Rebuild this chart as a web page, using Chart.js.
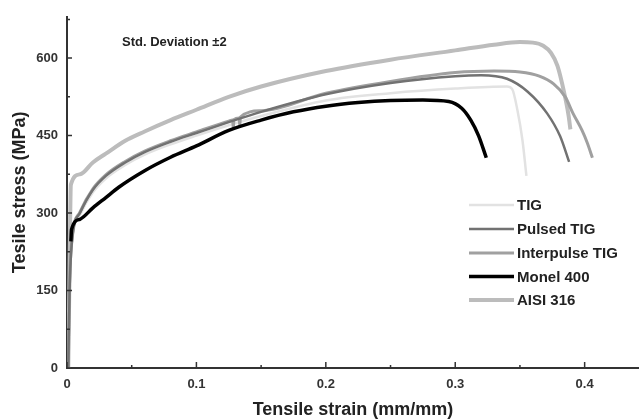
<!DOCTYPE html>
<html>
<head>
<meta charset="utf-8">
<script src="https://cdn.jsdelivr.net/npm/chart.js@4.4.1/dist/chart.umd.min.js"></script>
<style>
  html, body { margin: 0; padding: 0; background: #fff; }
  #wrap { width: 639px; height: 419px; position: relative; }
</style>
</head>
<body>
<div id="wrap"><canvas id="stressChart"></canvas></div>
<script>
// Series names, in legend order
const seriesNames = ['TIG', 'Pulsed TIG', 'Interpulse TIG', 'Monel 400', 'AISI 316'];

// Tensile strain (mm/mm) and stress (MPa)
const tigStrain = [0.001, 0.002, 0.004, 0.01, 0.02, 0.03, 0.045, 0.06, 0.08, 0.1, 0.125, 0.15, 0.2, 0.25, 0.3, 0.34, 0.344, 0.348, 0.352, 0.355];
const tigStress = [0, 150, 245, 296, 340, 367, 393, 413, 433, 450, 470, 488, 518, 532, 541, 545, 540, 500, 440, 372];

const pulsedStrain = [0.001, 0.002, 0.004, 0.01, 0.02, 0.03, 0.045, 0.06, 0.08, 0.1, 0.125, 0.15, 0.2, 0.25, 0.3, 0.32, 0.34, 0.356, 0.371, 0.381, 0.388];
const pulsedStress = [0, 150, 250, 300, 345, 372, 398, 418, 438, 455, 476, 496, 530, 552, 565, 567, 560, 535, 493, 449, 399];

const interStrain = [0.001, 0.002, 0.004, 0.01, 0.02, 0.03, 0.045, 0.06, 0.08, 0.1, 0.125, 0.128, 0.1285, 0.129, 0.133, 0.1335, 0.134, 0.15, 0.2, 0.25, 0.3, 0.33, 0.35, 0.365, 0.376, 0.385, 0.391, 0.398, 0.402, 0.406];
const interStress = [0, 160, 252, 302, 347, 374, 400, 420, 440, 457, 478, 480, 464, 481, 484, 469, 486, 498, 532, 555, 572, 575, 573, 565, 550, 525, 493, 460, 436, 407];

const monelStrain = [0.003, 0.0035, 0.01, 0.02, 0.03, 0.04, 0.06, 0.08, 0.1, 0.125, 0.15, 0.175, 0.2, 0.225, 0.25, 0.275, 0.295, 0.305, 0.312, 0.318, 0.324];
const monelStress = [245, 268, 288, 310, 330, 350, 382, 408, 430, 460, 480, 496, 507, 514, 518, 519, 516, 503, 480, 450, 407];

const aisiStrain = [0.001, 0.002, 0.003, 0.01, 0.02, 0.03, 0.045, 0.06, 0.08, 0.1, 0.125, 0.15, 0.2, 0.25, 0.3, 0.33, 0.35, 0.36, 0.368, 0.374, 0.379, 0.384, 0.3875, 0.389];
const aisiStress = [0, 200, 355, 375, 398, 415, 440, 458, 480, 500, 525, 545, 575, 597, 615, 626, 631, 630, 624, 610, 585, 535, 490, 462];

// Axis ticks
const xTicks = [0, 0.1, 0.2, 0.3, 0.4];
const xMinorTicks = [0.05, 0.15, 0.25, 0.35];
const yTicks = [0, 150, 300, 450, 600];
const yMinorTicks = [75, 225, 375, 525, 675];

const lineColors = ['#e2e2e2', '#727272', '#a0a0a0', '#000000', '#bcbcbc'];
const lineWidths = [2.5, 2.5, 3, 3.5, 4];
const drawOrder = [4, 1, 2, 0, 3];

function toPoints(xs, ys) {
    return xs.map((x, i) => ({ x: x, y: ys[i] }));
}

const allSeries = [
    toPoints(tigStrain, tigStress),
    toPoints(pulsedStrain, pulsedStress),
    toPoints(interStrain, interStress),
    toPoints(monelStrain, monelStress),
    toPoints(aisiStrain, aisiStress)
];

const fontFamily = '"Liberation Sans", Arial, sans-serif';

// tick marks pointing into the plot, plus the note and the legend
const decorPlugin = {
    id: 'decor',
    afterDraw(chart) {
        const ctx = chart.ctx;
        const xs = chart.scales.x, ys = chart.scales.y;
        const area = chart.chartArea;
        ctx.save();
        ctx.strokeStyle = '#333';
        ctx.lineWidth = 1.5;
        ctx.beginPath();
        xTicks.forEach(v => { const p = xs.getPixelForValue(v); ctx.moveTo(p, area.bottom); ctx.lineTo(p, area.bottom - 6); });
        xMinorTicks.forEach(v => { const p = xs.getPixelForValue(v); ctx.moveTo(p, area.bottom); ctx.lineTo(p, area.bottom - 3); });
        yTicks.forEach(v => { const p = ys.getPixelForValue(v); ctx.moveTo(area.left, p); ctx.lineTo(area.left + 5, p); });
        yMinorTicks.forEach(v => { const p = ys.getPixelForValue(v); ctx.moveTo(area.left, p); ctx.lineTo(area.left + 3, p); });
        ctx.stroke();

        ctx.fillStyle = '#222';
        ctx.font = 'bold 13px ' + fontFamily;
        ctx.textBaseline = 'middle';
        ctx.textAlign = 'left';
        ctx.fillText('Std. Deviation \u00b12', 122, 42);

        // legend
        const rowY = [205, 229, 253, 276.5, 300];
        ctx.font = 'bold 15px ' + fontFamily;
        chart.data.datasets.forEach((ds, i) => {
            ctx.strokeStyle = ds.borderColor;
            ctx.lineWidth = ds.borderWidth;
            ctx.beginPath();
            ctx.moveTo(469, rowY[i]);
            ctx.lineTo(514, rowY[i]);
            ctx.stroke();
            ctx.fillStyle = '#222';
            ctx.fillText(ds.label, 517, rowY[i] + 1);
        });
        ctx.restore();
    }
};

const ctx = document.getElementById('stressChart').getContext('2d');
new Chart(ctx, {
    type: 'scatter',
    data: {
        datasets: seriesNames.map((name, i) => ({
            label: name,
            data: allSeries[i],
            showLine: true,
            borderColor: lineColors[i],
            backgroundColor: lineColors[i],
            borderWidth: lineWidths[i],
            pointRadius: 0,
            cubicInterpolationMode: 'monotone',
            order: drawOrder[i]
        }))
    },
    options: {
        responsive: true,
        maintainAspectRatio: false,
        animation: false,
        layout: { padding: { top: 12, right: 0, left: 0, bottom: 0 } },
        plugins: {
            legend: { display: false },
            tooltip: { enabled: false }
        },
        scales: {
            x: {
                type: 'linear',
                min: 0,
                max: 0.442,
                afterBuildTicks: s => { s.ticks = xTicks.map(v => ({ value: v })); },
                afterFit: s => { s.height = 51; },
                grid: { display: false, drawTicks: false },
                border: { display: true, color: '#333', width: 2 },
                ticks: {
                    padding: 9,
                    color: '#333',
                    font: { family: fontFamily, size: 13, weight: 'bold' },
                    callback: v => String(v)
                },
                title: {
                    display: true,
                    text: 'Tensile strain (mm/mm)',
                    color: '#222',
                    font: { family: fontFamily, size: 18, weight: 'bold', lineHeight: 1 },
                    padding: { top: 0, bottom: 0 }
                }
            },
            y: {
                min: 0,
                max: 680,
                afterBuildTicks: s => { s.ticks = yTicks.map(v => ({ value: v })); },
                afterFit: s => { s.width = 67; },
                grid: { display: false, drawTicks: false },
                border: { display: true, color: '#333', width: 2 },
                ticks: {
                    padding: 9,
                    color: '#333',
                    font: { family: fontFamily, size: 13, weight: 'bold' }
                },
                title: {
                    display: true,
                    text: 'Tesile stress (MPa)',
                    color: '#222',
                    font: { family: fontFamily, size: 18, weight: 'bold', lineHeight: 1 },
                    padding: { top: 11, bottom: 0 }
                }
            }
        }
    },
    plugins: [decorPlugin]
});
</script>
</body>
</html>
